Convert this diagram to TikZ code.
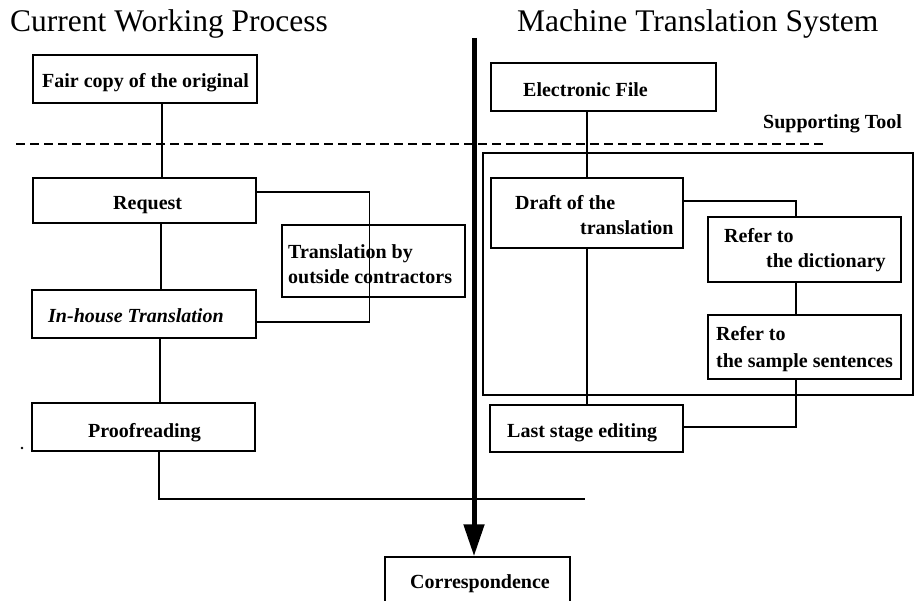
\documentclass[tikz,border=0pt]{standalone}
\usepackage{fontspec}
\setmainfont{Liberation Serif}
\usetikzlibrary{arrows.meta,calc}
\begin{document}
\begin{tikzpicture}[x=1pt,y=-1pt,
  box/.style={draw, line width=1.5pt, inner sep=0pt},
  link/.style={draw, line width=1.3pt},
  lbl/.style={anchor=base west, inner sep=0pt, font=\bfseries\fontsize{20}{24}\selectfont},
  heading/.style={anchor=base west, inner sep=0pt, font=\fontsize{31.5}{36}\selectfont}]
\useasboundingbox (0,0) rectangle (915,601);
\clip (0,0) rectangle (915,601);

% headings
\node[heading] (hcur) at (10,32) {Current Working Process};
\node[heading] (hmts) at (517,32) {Machine Translation System};

% region of the supporting tool
\draw[line width=1.3pt] (913,153) -- (483,153) -- (483,395) -- (913,395) -- cycle;
\node[lbl] (tool) at (763,129) {Supporting Tool};

% dashed divider
\coordinate (dashL) at (16,144);
\coordinate (dashR) at (823,144);
\draw[line width=1.5pt, dash pattern=on 9pt off 5pt] (dashL) -- (dashR);

% boxes of the current process
\node[box, minimum width=224pt, minimum height=48pt] (fair)  at (145,79) {};
\node[box, minimum width=223pt, minimum height=45pt] (req)   at (144.5,200.5) {};
\node[box, minimum width=183pt, minimum height=72pt] (outs)  at (373.5,261) {};
\node[box, minimum width=224pt, minimum height=48pt] (inh)   at (144,314) {};
\node[box, minimum width=223pt, minimum height=48pt] (proof) at (143.5,427) {};

% boxes of the machine translation system
\node[box, minimum width=225pt, minimum height=48pt] (efile)  at (603.5,87) {};
\node[box, minimum width=192pt, minimum height=70pt] (draft)  at (587,213) {};
\node[box, minimum width=193pt, minimum height=65pt] (dict)   at (804.5,249.5) {};
\node[box, minimum width=193pt, minimum height=64pt] (sample) at (804.5,347) {};
\node[box, minimum width=193pt, minimum height=47pt] (last)   at (586.5,428.5) {};
\node[box, minimum width=185pt, minimum height=63pt] (corr)   at (477.5,588.5) {};

% connectors, left column
\draw[link] ([xshift=17pt]fair.south) -- ([xshift=17pt]fair.south |- req.north);
\draw[link] ([xshift=16.5pt]req.south) -- ([xshift=16.5pt]req.south |- inh.north);
\draw[link] ([xshift=16pt]inh.south) -- ([xshift=16pt]inh.south |- proof.north);
\draw[link] ([yshift=8.5pt]req.east) -- ++(113,0) |- ([yshift=-8pt]inh.east);
\coordinate (join) at (585,499);
\draw[link] ([xshift=15.5pt]proof.south) |- (join);

% connectors, right column
\draw[link] (draft.north |- efile.south) -- (draft.north);
\draw[link] ([yshift=12pt]draft.east) -| ([xshift=-8.5pt]dict.north);
\draw[link] ([xshift=-8.5pt]dict.south) -- ([xshift=-8.5pt]sample.north);
\draw[link] ([xshift=-8.5pt]sample.south) |- ([yshift=1.5pt]last.east);
\draw[link] (draft.south) -- (draft.south |- last.north);

% main flow arrow
\coordinate (flowtop) at (474,38);
\draw[line width=5pt, -{Triangle[width=20pt 0, length=32pt 0]}] (flowtop) -- (flowtop |- corr.north);

% small dot beside the proofreading box
\fill (22,448) circle (1.3pt);

% labels
\node[lbl] (tfair)  at (42,88)  {Fair copy of the original};
\node[lbl] (treq)   at (113,210) {Request};
\node[lbl] (touts1) at (288,259) {Translation by};
\node[lbl] (touts2) at (288,284) {outside contractors};
\node[lbl] (tinh)   at (48,323) {\itshape In-house Translation};
\node[lbl] (tproof) at (88,437) {Proofreading};
\node[lbl] (tefile) at (523,97) {Electronic File};
\node[lbl] (tdraft1) at (515,210) {Draft of the};
\node[lbl] (tdraft2) at (580,235) {translation};
\node[lbl] (tdict1) at (724,243) {Refer to};
\node[lbl] (tdict2) at (766,268) {the dictionary};
\node[lbl] (tsamp1) at (716,341) {Refer to};
\node[lbl] (tsamp2) at (716,367) {the sample sentences};
\node[lbl] (tlast)  at (507,437) {Last stage editing};
\node[lbl] (tcorr)  at (410,588) {Correspondence};
\end{tikzpicture}
\end{document}
